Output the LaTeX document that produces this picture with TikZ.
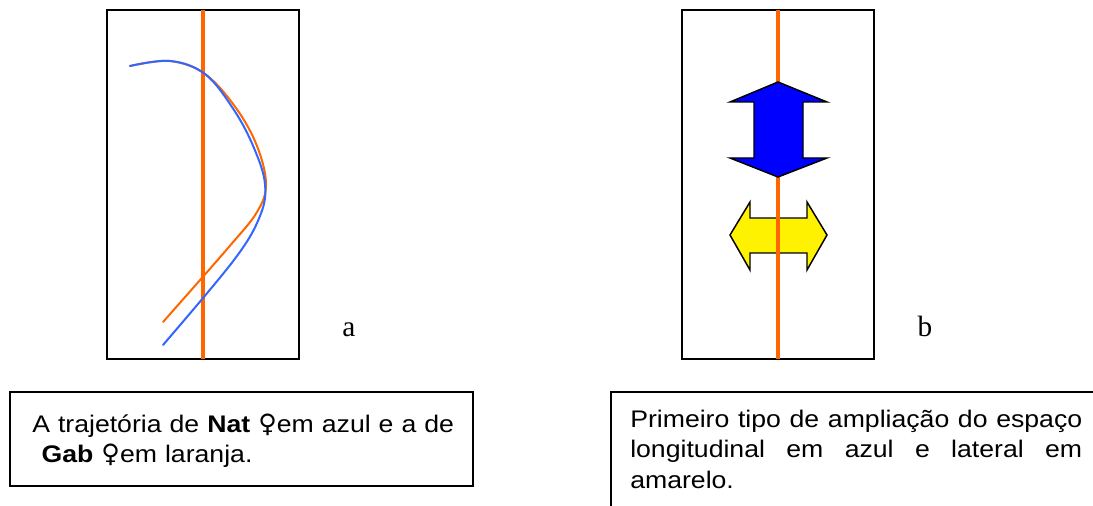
\documentclass[tikz,border=0pt]{standalone}
\usepackage{fontspec}
\setmainfont{Liberation Sans}[FakeStretch=1.11]
\newfontfamily\serifletter{Liberation Serif}
\newfontfamily\symbolfont{DejaVu Sans}

\definecolor{trackorange}{RGB}{255,102,0}
\definecolor{trackblue}{RGB}{51,102,255}

\newcommand{\venus}{\makebox[14pt][c]{\symbolfont\fontsize{19}{19}\selectfont ♀}}

\tikzset{
	frame/.style={draw, line width=1.2pt},
	axisline/.style={draw=trackorange, line width=2.4pt},
	track/.style={line width=1.5pt, line join=round, line cap=round},
	caption/.style={anchor=base west, inner sep=0pt, font=\fontsize{18}{23}\selectfont},
	panel/.style={anchor=base, inner sep=0pt, font=\serifletter\fontsize{22}{26}\selectfont},
	bigarrow/.style={draw=black, line width=1.1pt, line join=miter}
}

\begin{document}
\begin{tikzpicture}[x=0.75pt,y=-0.75pt]
	\useasboundingbox (0,0) rectangle (1093,506);
	
	% panel a: trajectories
	\draw [frame] (107,10) rectangle (299,359);
	\draw [axisline] (203,10) -- (203,359);
	\draw [track, trackorange] plot [smooth, tension=0.6] coordinates
		{(130,66) (170,61) (205,74) (236,108) (257,146) (266,184) (257,212) (228,248) (163,322)};
	\draw [track, trackblue] plot [smooth, tension=0.6] coordinates
		{(130,66) (170,61) (205,74) (234,110) (254,148) (265,184) (260,216) (234,260) (163,345)};
	\node [panel] (labelA) at (349,336) {a};
	
	% panel b: longitudinal and lateral space
	\draw [frame] (682,10) rectangle (874,359);
	\draw [bigarrow, fill=yellow] (730,235) -- (750,202) -- (750,218) -- (807,218) -- (807,202)
		-- (827,235) -- (807,270) -- (807,253) -- (750,253) -- (750,270) -- cycle;
	\draw [axisline] (778,10) -- (778,359);
	\draw [bigarrow, fill=blue] (778,82) -- (827,102) -- (803,102) -- (803,158) -- (827,158)
		-- (778,177) -- (730,158) -- (754,158) -- (754,102) -- (730,102) -- cycle;
	\node [panel] (labelB) at (925,336) {b};
	
	% captions
	\draw [frame, line width=1pt] (10,392) rectangle (473,486);
	\node [caption,
	text width=340pt,
	align=left] (captionA) at (32,432)
	{A trajetória de \textbf{Nat} \venus em azul e a de\\\hspace*{7pt}\textbf{Gab} \venus em laranja.};
	
	\draw [line width=1pt] (1093,392) -- (611,392) -- (611,506);
	\node [caption,
	text width=339pt,
	align=justify,
	execute at begin node={\hyphenpenalty=10000\tolerance=9999}] (captionB) at (630,427)
	{Primeiro tipo de ampliação do espaço longitudinal em azul e lateral em amarelo.};
\end{tikzpicture}
\end{document}
